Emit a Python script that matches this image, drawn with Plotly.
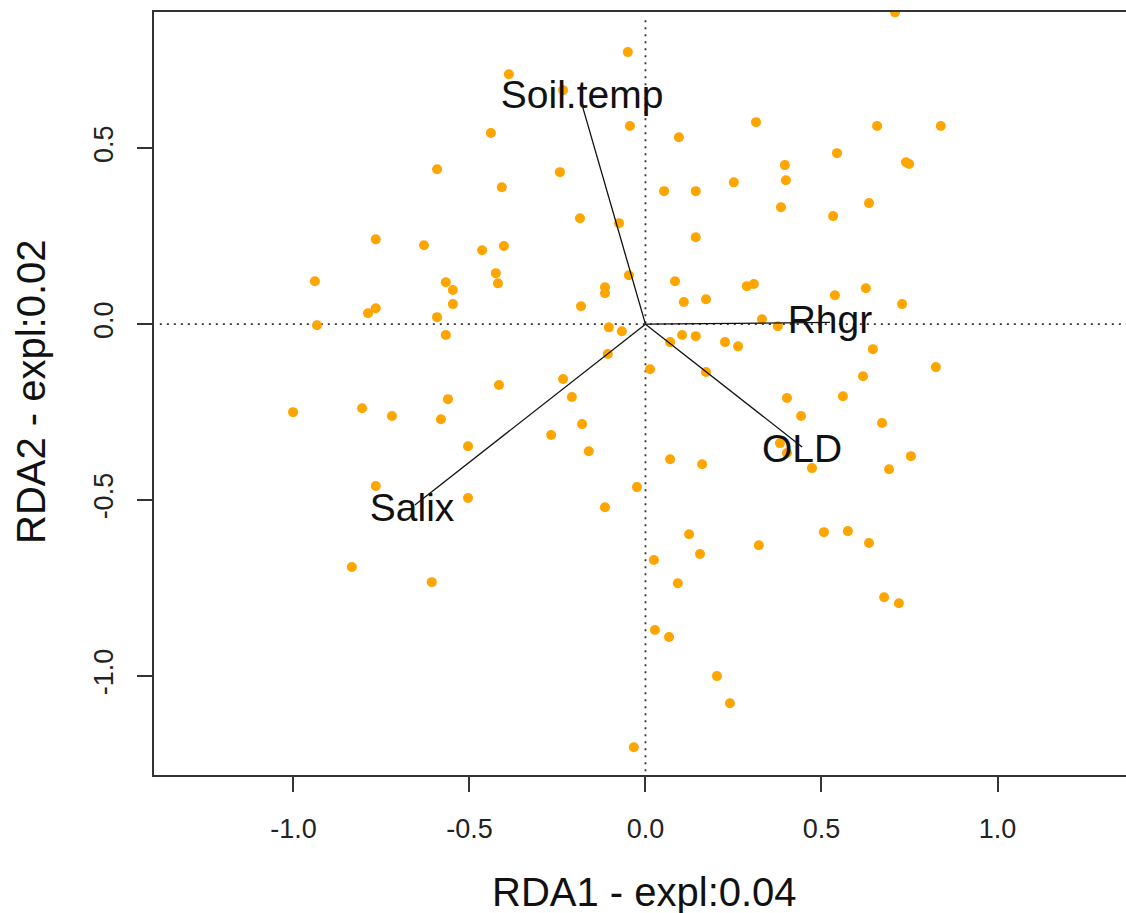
import plotly.graph_objects as go

# ---- site scores (RDA1, RDA2) ----
site_rda1 = [-0.388, -0.439, -0.592, -0.408, -0.766, -0.629, -0.464, -0.402, -0.939, -0.567,
             -0.547, -0.425, -0.419, -0.547, -0.766, -0.788, -0.592, -0.933, 0.709, -0.050,
             -0.234, -0.044, 0.314, 0.658, 0.839, 0.095, -0.243, 0.544, 0.396, 0.399,
             0.740, 0.749, 0.251, 0.053, 0.143, 0.385, 0.635, -0.186, 0.533, -0.075,
             0.143, -0.047, -0.115, -0.115, 0.084, 0.288, 0.308, 0.626, 0.538, -0.183,
             0.109, 0.172, 0.729, 0.331, 0.376, -0.104, -0.067, -0.567, -0.416, -1.001,
             -0.805, -0.720, -0.561, -0.581, -0.504, -0.766, -0.504, -0.834, -0.607, 0.104,
             0.143, 0.070, 0.226, 0.263, 0.646, -0.107, 0.013, 0.172, 0.618, 0.825,
             -0.234, -0.209, 0.402, 0.561, 0.442, 0.672, -0.180, -0.268, -0.161, 0.382,
             0.402, 0.473, 0.754, 0.692, 0.070, 0.161, -0.024, -0.115, 0.124, 0.507,
             0.575, 0.322, 0.635, 0.155, 0.024, 0.092, 0.678, 0.720, 0.027, 0.067,
             0.203, 0.240, -0.033]
site_rda2 = [0.710, 0.543, 0.440, 0.389, 0.241, 0.224, 0.210, 0.222, 0.122, 0.119,
             0.097, 0.145, 0.116, 0.057, 0.045, 0.031, 0.020, -0.003, 0.886, 0.773,
             0.665, 0.563, 0.574, 0.563, 0.563, 0.531, 0.432, 0.486, 0.452, 0.409,
             0.460, 0.455, 0.403, 0.378, 0.378, 0.332, 0.344, 0.301, 0.307, 0.287,
             0.247, 0.139, 0.105, 0.088, 0.122, 0.108, 0.114, 0.102, 0.082, 0.051,
             0.063, 0.071, 0.057, 0.014, -0.006, -0.009, -0.020, -0.031, -0.173, -0.250,
             -0.239, -0.261, -0.213, -0.270, -0.347, -0.460, -0.494, -0.690, -0.733, -0.031,
             -0.034, -0.051, -0.051, -0.063, -0.071, -0.085, -0.128, -0.136, -0.148, -0.122,
             -0.156, -0.207, -0.210, -0.205, -0.261, -0.281, -0.284, -0.315, -0.361, -0.338,
             -0.366, -0.409, -0.375, -0.412, -0.384, -0.398, -0.463, -0.520, -0.597, -0.591,
             -0.588, -0.628, -0.622, -0.653, -0.670, -0.736, -0.776, -0.793, -0.869, -0.889,
             -1.000, -1.077, -1.202]

# ---- environmental variables (biplot arrows) ----
env_names = ["Soil.temp", "Rhgr", "OLD", "Salix"]
env_rda1 = [-0.178, 0.524, 0.445, -0.655]
env_rda2 = [0.616, 0.005, -0.349, -0.514]
label_rda1 = [-0.180, 0.524, 0.445, -0.663]
label_rda2 = [0.643, 0.002, -0.363, -0.531]

tick_vals_x = [-1.0, -0.5, 0.0, 0.5, 1.0]
tick_text_x = ["-1.0", "-0.5", "0.0", "0.5", "1.0"]
tick_vals_y = [-1.0, -0.5, 0.0, 0.5]
tick_text_y = ["-1.0", "-0.5", "0.0", "0.5"]

x_title = "RDA1 - expl:0.04"
y_title = "RDA2 - expl:0.02"

FONT = "Liberation Sans, Arial, sans-serif"
AX = "#333333"

fig = go.Figure()

fig.add_trace(go.Scatter(
    x=site_rda1, y=site_rda2, mode="markers",
    marker=dict(color="#FFA500", size=10, line=dict(width=0)),
    showlegend=False, hoverinfo="skip"))

for name, ex, ey in zip(env_names, env_rda1, env_rda2):
    fig.add_trace(go.Scatter(
        x=[0, ex], y=[0, ey], mode="lines",
        line=dict(color="#111111", width=1.3),
        showlegend=False, hoverinfo="skip"))

fig.add_trace(go.Scatter(
    x=label_rda1, y=label_rda2, mode="text", text=env_names,
    textposition="middle center",
    textfont=dict(family=FONT, size=39, color="#111111"),
    showlegend=False, hoverinfo="skip"))

# zero reference lines (dotted)
fig.add_shape(type="line", xref="x", yref="paper", x0=0, x1=0, y0=0.005, y1=0.995,
              line=dict(color=AX, width=1.8, dash="2px,5px"), layer="below")
fig.add_shape(type="line", xref="paper", yref="y", x0=0.006, x1=1, y0=0, y1=0,
              line=dict(color=AX, width=1.8, dash="2px,5px"), layer="below")

fig.update_layout(
    width=1126, height=913,
    margin=dict(l=154, r=0, t=12, b=138),
    paper_bgcolor="white", plot_bgcolor="white",
    font=dict(family=FONT, color=AX),
    showlegend=False,
    xaxis=dict(range=[-1.396, 1.365], tickvals=tick_vals_x, ticktext=tick_text_x,
               ticks="outside", ticklen=15, tickwidth=1.5, tickcolor=AX,
               showline=True, linecolor=AX, linewidth=1.5, mirror=True,
               showgrid=False, zeroline=False,
               tickfont=dict(family=FONT, size=27, color="#222222"),
               ticklabelstandoff=14),
    yaxis=dict(range=[-1.281, 0.887], tickvals=tick_vals_y, ticktext=tick_text_y,
               ticks="outside", ticklen=15, tickwidth=1.5, tickcolor=AX,
               showline=True, linecolor=AX, linewidth=1.5, mirror=False,
               showgrid=False, zeroline=False, tickangle=-90,
               tickfont=dict(family=FONT, size=27, color="#222222"),
               ticklabelstandoff=13),
    annotations=[
        dict(text=x_title, xref="paper", yref="paper", x=(644.5 - 154) / 972,
             y=(775 - 892) / 763, xanchor="center", yanchor="middle", showarrow=False,
             font=dict(family=FONT, size=40, color="#111111")),
        dict(text=y_title, xref="paper", yref="paper", x=(31 - 154) / 972,
             y=(775 - 392) / 763, xanchor="center", yanchor="middle", showarrow=False,
             textangle=-90, font=dict(family=FONT, size=40, color="#111111")),
    ],
)

fig.write_html("out.html",
               config={"displayModeBar": False},
               post_script="document.body.style.margin='0px';document.body.style.overflow='hidden';")
